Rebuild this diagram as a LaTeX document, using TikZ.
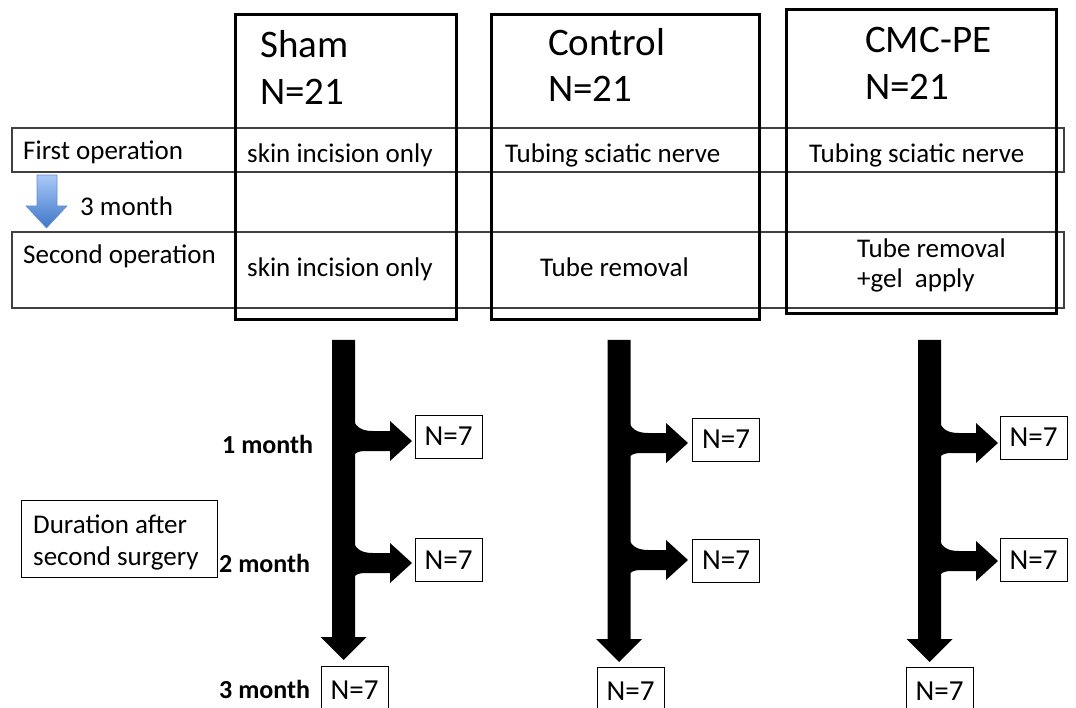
\documentclass[tikz,border=0pt]{standalone}
\usepackage{fontspec}
\setmainfont{Carlito}
\usetikzlibrary{calc}
\definecolor{bluetop}{HTML}{A9C9F7}
\definecolor{bluebot}{HTML}{3E76C8}
\newcommand\sidearrow[3]{% #1 bar right x, #2 center y, #3 tip x
  \fill (#1-3,#2-25) .. controls (#1,#2-14) and (#1+6,#2-10) .. (#1+18,#2-10)
    -- (#3-22,#2-10) -- (#3-22,#2-20) -- (#3,#2) -- (#3-22,#2+20) -- (#3-22,#2+10)
    -- (#1+10,#2+10) .. controls (#1+3,#2+10) and (#1,#2+12) .. (#1-3,#2+16) -- cycle;}
\newcommand\downbar[4]{% #1 center x, #2 top y, #3 head start y, #4 tip y
  \fill (#1-11.5,#2) -- (#1+11.5,#2) -- (#1+11.5,#3) -- (#1+23,#3) -- (#1,#4)
    -- (#1-23,#3) -- (#1-11.5,#3) -- cycle;}
\begin{document}
\begin{tikzpicture}[x=1pt,y=-1pt,
  small/.style={font=\fontsize{27}{31}\selectfont},
  big/.style={font=\fontsize{39}{47}\selectfont},
  boldlab/.style={font=\fontsize{26}{30}\selectfont\bfseries},
  rowbox/.style={draw=black!75,line width=1.2pt},
  groupbox/.style={draw=black,line width=3pt},
  nbox/.style={draw=black,line width=1pt,minimum width=67pt,minimum height=43pt,inner sep=0pt,font=\fontsize{29}{33}\selectfont},
  txt/.style={inner sep=0pt,anchor=base west}]
\clip (0,0) rectangle (1076,708);
\useasboundingbox (0,0) rectangle (1076,708);
\fill[white] (0,0) rectangle (1076,708);
% rows
\draw[rowbox] (12,128) rectangle (1064,172);
\draw[rowbox] (12,232) rectangle (1064,308);
% group boxes
\draw[groupbox] (235,15) rectangle (456,320);
\draw[groupbox] (491,15) rectangle (759,320);
\draw[groupbox] (786,10) rectangle (1056,314);
% group titles
\node[txt,big] (shamt) at (260,58) {Sham};
\node[txt,big] (shamn) at (260,105) {N=21};
\node[txt,big] (cont) at (548,56) {Control};
\node[txt,big] (conn) at (548,102) {N=21};
\node[txt,big] (cmct) at (865,53) {CMC-PE};
\node[txt,big] (cmcn) at (865,100) {N=21};
% row labels
\node[txt,small] (firstop) at (23,160) {First operation};
\node[txt,small] (threem) at (80,216) {3 month};
\node[txt,small] (secondop) at (23,264) {Second operation};
\shade[top color=bluetop,bottom color=bluebot,draw=bluebot!80,line width=0.6pt]
  (37,175) -- (57,175) -- (57,206) -- (67,206) -- (46.5,228) -- (26,206) -- (37,206) -- cycle;
% cell texts
\node[txt,small] (s1) at (247,163) {skin incision only};
\node[txt,small] (s2) at (247,277) {skin incision only};
\node[txt,small] (c1) at (505,163) {Tubing sciatic nerve};
\node[txt,small] (c2) at (540,277) {Tube removal};
\node[txt,small] (m1) at (809,163) {Tubing sciatic nerve};
\node[txt,small] (m2) at (857,258) {Tube removal};
\node[txt,small] (m3) at (857,288) {+gel\ \ apply};
% duration box
\node[draw=black,line width=1pt,minimum width=196pt,minimum height=77pt,inner sep=0pt] (dur) at (119,538.5) {};
\node[txt,small] (dur1) at (33,533) {Duration after};
\node[txt,small] (dur2) at (33,565) {second surgery};
% month labels
\node[txt,boldlab] (m1lab) at (222,453) {1 month};
\node[txt,boldlab] (m2lab) at (219,572) {2 month};
\node[txt,boldlab] (m3lab) at (219,698) {3 month};
% result boxes
\node[nbox] (sa) at (448.5,436.5) {N=7};
\node[nbox] (sb) at (448.5,560) {N=7};
\node[nbox,minimum height=48pt] (sc) at (354.5,690) {N=7};
\node[nbox] (ca) at (726,439.5) {N=7};
\node[nbox] (cb) at (726,560.5) {N=7};
\node[nbox,minimum height=48pt] (cc) at (630.5,691) {N=7};
\node[nbox] (ma) at (1033.5,437.5) {N=7};
\node[nbox] (mb) at (1033.5,560) {N=7};
\node[nbox,minimum height=48pt] (mc) at (939.5,691) {N=7};
% flow arrows
\downbar{343.5}{340}{637}{660}
\downbar{619}{340}{639}{662}
\downbar{929.5}{340}{639}{662}
\sidearrow{355}{441}{412}
\sidearrow{355}{563}{412}
\sidearrow{630.5}{443}{688}
\sidearrow{630.5}{560}{688}
\sidearrow{941}{443}{998}
\sidearrow{941}{561}{998}
\end{tikzpicture}
\end{document}
